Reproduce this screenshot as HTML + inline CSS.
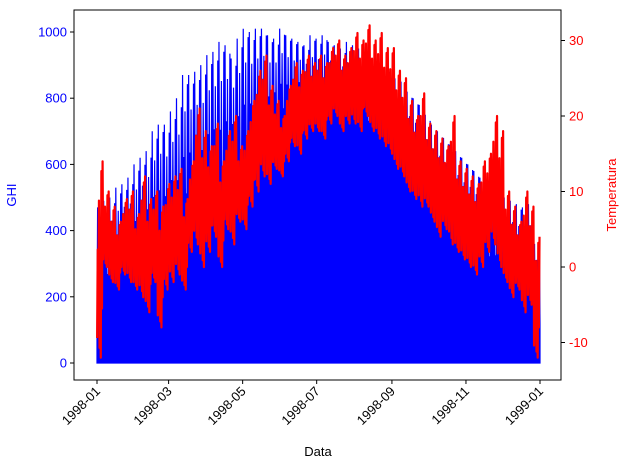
<!DOCTYPE html>
<html><head><meta charset="utf-8"><style>
body{margin:0;background:#fff;font-family:"Liberation Sans",sans-serif}
svg text{font-family:"Liberation Sans",sans-serif;font-size:13px}
</style></head><body>
<svg id="c" width="630" height="470">
<g id="plot"></g>
<rect x="74" y="10" width="487" height="370" fill="none" stroke="#000" stroke-width="1"/>
<g id="axes"></g>
<text x="16" y="195" fill="blue" text-anchor="middle" transform="rotate(-90 16 195)">GHI</text>
<text x="616" y="195" fill="red" text-anchor="middle" transform="rotate(-90 616 195)">Temperatura</text>
<text x="318" y="456" text-anchor="middle">Data</text>
</svg>
<script>
const ghiHigh=[470,490,500,530,540,560,600,620,640,700,720,720,760,800,870,870,880,900,930,940,970,960,920,980,1010,1000,1010,1010,990,980,1010,990,980,970,960,990,980,990,970,960,950,970,960,950,940,920,900,890,880,860,850,820,800,780,750,720,700,680,660,640,620,600,580,560,550,540,520,500,490,480,470,480,360];
const ghiLow=[100,150,150,180,200,170,220,200,250,260,280,240,300,250,320,350,380,330,400,420,380,450,480,460,500,520,560,600,580,620,640,660,650,700,680,660,670,700,690,710,680,650,650,640,620,600,580,550,540,500,480,450,430,400,380,360,330,300,320,280,250,260,230,220,200,210,200,180,170,150,140,160,120];
const tMax=[14,10,8,6,9,10,7,12,9,10,8,11,12,13,9,14,21,18,16,19,14,18,20,16,18,22,26,28,24,22,20,24,27,26,28,27,28,27,29,30,28,29,31,30,32,30,31,29,29,26,25,22,20,23,19,18,17,16,20,14,13,12,11,14,15,20,18,10,8,6,10,8,4];
const tMin=[-12,0,-2,-3,-1,-2,-3,-4,-6,-2,-8,-3,-2,-1,-3,2,3,0,2,4,0,5,3,6,5,8,10,12,11,13,12,14,16,15,17,18,18,17,19,20,18,19,19,18,20,18,17,16,15,13,12,10,9,8,8,6,4,5,3,2,1,0,-1,0,2,3,0,-2,-4,-3,-6,-5,-12];
const ghiTicks=[0,200,400,600,800,1000];
const tTicks=[-10,0,10,20,30];
const xTickLabels=["1998-01","1998-03","1998-05","1998-07","1998-09","1998-11","1999-01"];
const xTickDays=[0,59,120,181,243,304,365];
const BIN=5;
const xs=d=>97+d*(443/365);
const yG=v=>363-v*0.331;
const yT=v=>267-v*7.55;
const NS="http://www.w3.org/2000/svg";
const plot=document.getElementById('plot'),axes=document.getElementById('axes');
function mk(t,a,p){const e=document.createElementNS(NS,t);for(const k in a)e.setAttribute(k,a[k]);p.appendChild(e);return e;}
const hw=[1,0.55,0.8,0.35,0.95];
const lw=[0,0.25,0.1,0.3,0.05];
// GHI
let pts=[[xs(0),yG(0)]];
ghiHigh.forEach((h,i)=>{const lo=ghiLow[i];for(let k=0;k<BIN;k++){const d=i*BIN+k;
pts.push([xs(d),yG(lo+(h-lo)*lw[k]*0.5)]);pts.push([xs(d+0.5),yG(lo+(h-lo)*hw[k])]);}});
pts.push([xs(365),yG(ghiLow[ghiLow.length-1])]);
pts.push([xs(365),yG(0)]);
const g=mk('polygon',{points:pts.map(p=>p.join(',')).join(' '),fill:'blue',stroke:'blue','stroke-width':1.2},plot);


// Temperature
let tp=[];
tMax.forEach((h,i)=>{const lo=tMin[i],r=h-lo;for(let k=0;k<BIN;k++){const d=i*BIN+k;
tp.push([xs(d+0.1),yT(lo+r*lw[(k+2)%5])]);tp.push([xs(d+0.6),yT(lo+r*hw[(k+1)%5])]);}});
const tl=mk('polyline',{points:tp.map(p=>p.join(',')).join(' '),fill:'none',stroke:'red','stroke-width':2.2,'stroke-linejoin':'round'},plot);


ghiTicks.forEach(v=>{const y=yG(v);mk('line',{x1:70,x2:74,y1:y,y2:y,stroke:'#000'},axes);
const t=mk('text',{x:67,y:y+4.5,'text-anchor':'end',fill:'blue'},axes);t.textContent=v;

});
tTicks.forEach(v=>{const y=yT(v);mk('line',{x1:561,x2:565,y1:y,y2:y,stroke:'#000'},axes);
const t=mk('text',{x:569,y:y+4.5,fill:'red'},axes);t.textContent=v;

});
xTickLabels.forEach((s,i)=>{const x=xs(xTickDays[i]);mk('line',{x1:x,x2:x,y1:380,y2:384,stroke:'#000'},axes);
const t=mk('text',{x:x+4,y:392,'text-anchor':'end',transform:`rotate(-45 ${x+4} 392)`},axes);t.textContent=s;

});
</script>
</body></html>
